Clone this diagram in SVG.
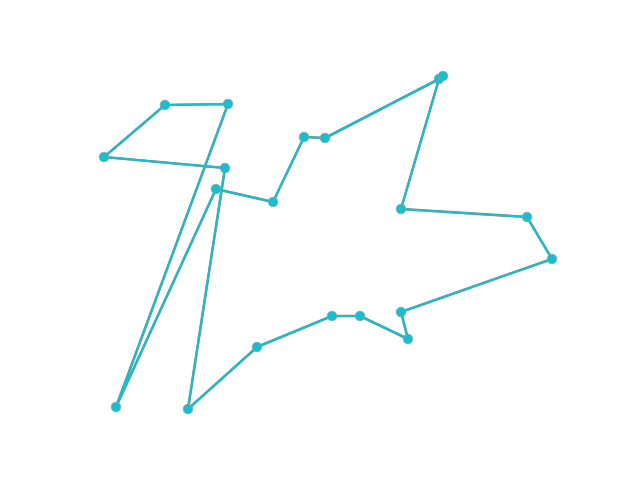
<svg xmlns="http://www.w3.org/2000/svg" width="640" height="480" viewBox="0 0 640 480">
<style>
.under{fill:none;stroke:#8a8a7a;stroke-width:2.6;stroke-linejoin:round;stroke-linecap:round}
.route{fill:none;stroke:#17becf;stroke-width:2;stroke-linejoin:round;stroke-linecap:round}
.pt{fill:#17becf;stroke:#7fa8a0;stroke-width:0.8}
</style>
<rect width="640" height="480" fill="#ffffff"/>
<g id="connectors">
<polyline class="under" points="165,105 228,104 116,407 216,189 273,202 304,137 325,138 439,79 443,76 439,79 401,209 527,217 552,259 401,312 408,339 360,316 332,316 257,347 188,409 225,168 104,157 165,105"/>
<polyline class="route" points="165,105 228,104 116,407 216,189 273,202 304,137 325,138 439,79 443,76 439,79 401,209 527,217 552,259 401,312 408,339 360,316 332,316 257,347 188,409 225,168 104,157 165,105"/>
</g>
<g id="n1"><circle class="pt" cx="165" cy="105" r="4.8"/></g>
<g id="n2"><circle class="pt" cx="228" cy="104" r="4.8"/></g>
<g id="n3"><circle class="pt" cx="116" cy="407" r="4.8"/></g>
<g id="n4"><circle class="pt" cx="216" cy="189" r="4.8"/></g>
<g id="n5"><circle class="pt" cx="273" cy="202" r="4.8"/></g>
<g id="n6"><circle class="pt" cx="304" cy="137" r="4.8"/></g>
<g id="n7"><circle class="pt" cx="325" cy="138" r="4.8"/></g>
<g id="n8"><circle class="pt" cx="439" cy="79" r="4.8"/></g>
<g id="n9"><circle class="pt" cx="443" cy="76" r="4.8"/></g>
<g id="n10"><circle class="pt" cx="401" cy="209" r="4.8"/></g>
<g id="n11"><circle class="pt" cx="527" cy="217" r="4.8"/></g>
<g id="n12"><circle class="pt" cx="552" cy="259" r="4.8"/></g>
<g id="n13"><circle class="pt" cx="401" cy="312" r="4.8"/></g>
<g id="n14"><circle class="pt" cx="408" cy="339" r="4.8"/></g>
<g id="n15"><circle class="pt" cx="360" cy="316" r="4.8"/></g>
<g id="n16"><circle class="pt" cx="332" cy="316" r="4.8"/></g>
<g id="n17"><circle class="pt" cx="257" cy="347" r="4.8"/></g>
<g id="n18"><circle class="pt" cx="188" cy="409" r="4.8"/></g>
<g id="n19"><circle class="pt" cx="225" cy="168" r="4.8"/></g>
<g id="n20"><circle class="pt" cx="104" cy="157" r="4.8"/></g>
</svg>
